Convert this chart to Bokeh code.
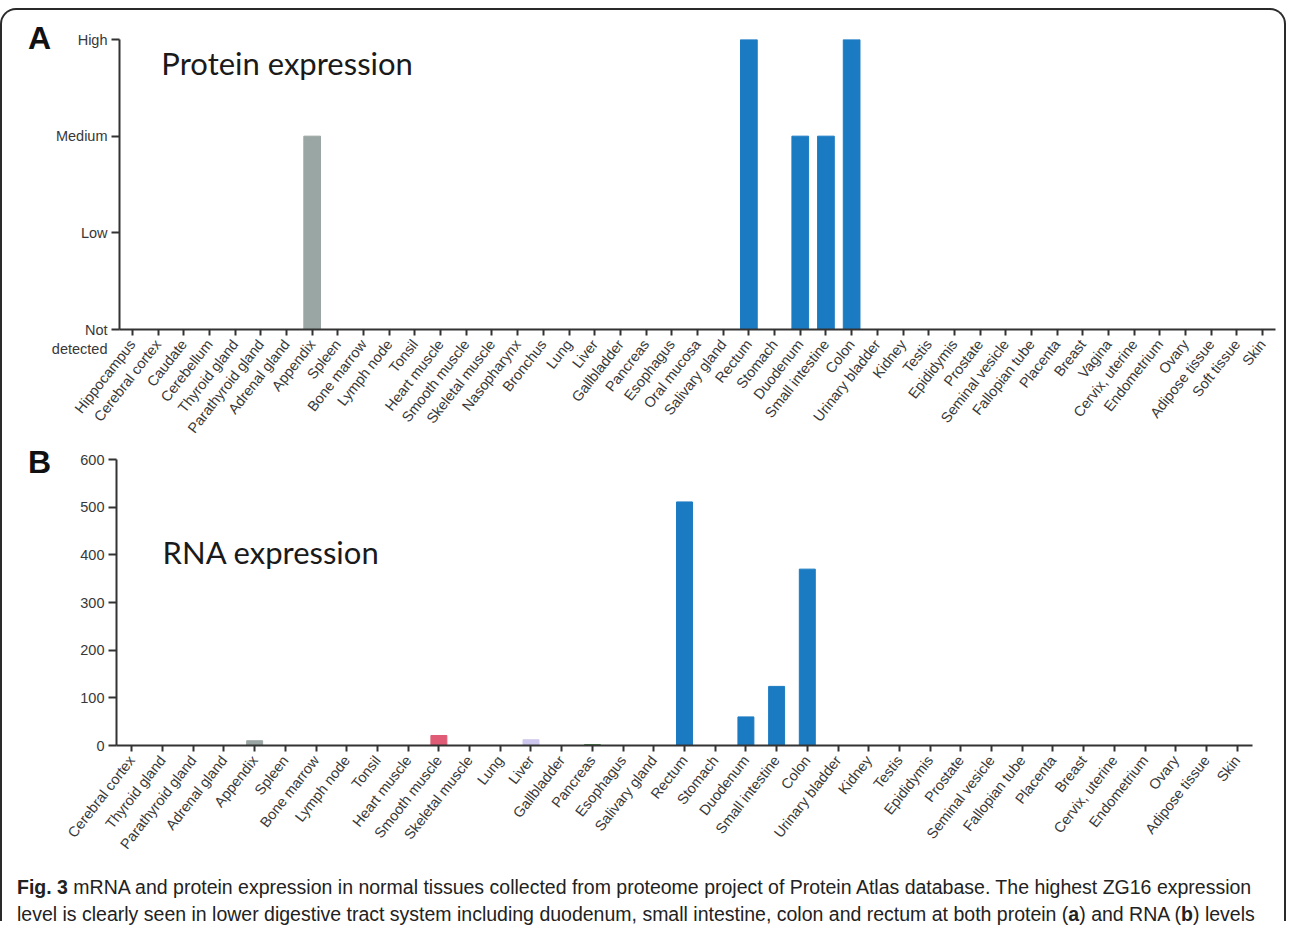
import math
from bokeh.plotting import figure
from bokeh.models import FactorRange, Range1d, FixedTicker, Div, ColumnDataSource
from bokeh.core.properties import value
from bokeh.layouts import column, row
from bokeh.embed import file_html
from bokeh.resources import INLINE

# ---------------- data ----------------
tissues_a = ["Hippocampus", "Cerebral cortex", "Caudate", "Cerebellum", "Thyroid gland",
             "Parathyroid gland", "Adrenal gland", "Appendix", "Spleen", "Bone marrow",
             "Lymph node", "Tonsil", "Heart muscle", "Smooth muscle", "Skeletal muscle",
             "Nasopharynx", "Bronchus", "Lung", "Liver", "Gallbladder", "Pancreas",
             "Esophagus", "Oral mucosa", "Salivary gland", "Rectum", "Stomach", "Duodenum",
             "Small intestine", "Colon", "Urinary bladder", "Kidney", "Testis", "Epididymis",
             "Prostate", "Seminal vesicle", "Fallopian tube", "Placenta", "Breast", "Vagina",
             "Cervix, uterine", "Endometrium", "Ovary", "Adipose tissue", "Soft tissue", "Skin"]
level_names = ["Not detected", "Low", "Medium", "High"]
level_labels = ["\nNot\ndetected", "Low", "Medium", "High"]
protein_level = {"Appendix": "Medium", "Rectum": "High", "Duodenum": "Medium",
                 "Small intestine": "Medium", "Colon": "High"}

tissues_b = ["Cerebral cortex", "Thyroid gland", "Parathyroid gland", "Adrenal gland", "Appendix",
             "Spleen", "Bone marrow", "Lymph node", "Tonsil", "Heart muscle", "Smooth muscle",
             "Skeletal muscle", "Lung", "Liver", "Gallbladder", "Pancreas", "Esophagus",
             "Salivary gland", "Rectum", "Stomach", "Duodenum", "Small intestine", "Colon",
             "Urinary bladder", "Kidney", "Testis", "Epididymis", "Prostate", "Seminal vesicle",
             "Fallopian tube", "Placenta", "Breast", "Cervix, uterine", "Endometrium", "Ovary",
             "Adipose tissue", "Skin"]
rna_values = [0, 0, 0, 0, 10, 0, 0, 0, 0, 0, 21, 0, 0, 12, 0, 2, 0, 0, 511, 0, 60, 124, 370,
              0, 0, 0, 0, 0, 0, 0, 0, 0, 0, 0, 0, 0, 0]
rna_ticks = [0, 100, 200, 300, 400, 500, 600]

title_a = "Protein expression"
title_b = "RNA expression"

# ---------------- styles ----------------
BLUE = "#1b7bc2"
special_colors = {"Appendix": "#9aa6a3", "Smooth muscle": "#e05c76",
                  "Liver": "#cfc8ee", "Pancreas": "#4f8f4f"}
AXIS_COL = "#333333"
TICK_FONT = "Liberation Sans"
ANGLE = math.radians(52)


def style_axes(p):
    for ax in (p.xaxis[0], p.yaxis[0]):
        ax.axis_line_width = 2
        ax.axis_line_color = AXIS_COL
        ax.major_tick_line_width = 2
        ax.major_tick_line_color = AXIS_COL
        ax.major_tick_in = 0
        ax.minor_tick_line_color = None
        ax.major_label_text_color = "#383838"
        ax.major_label_text_font = TICK_FONT
    p.xaxis.major_tick_out = 6
    p.yaxis.major_tick_out = 8
    p.xaxis.major_label_orientation = ANGLE
    p.xaxis.major_label_text_font_size = "14.5px"
    p.xaxis.major_label_standoff = 6
    p.yaxis.major_label_text_font_size = "14.5px"
    p.yaxis.major_label_standoff = 4
    p.xgrid.grid_line_color = None
    p.ygrid.grid_line_color = None
    p.outline_line_color = None
    p.border_fill_color = None


def letter_div(letter, pad_top):
    return Div(text=(f'<div style="padding:{pad_top}px 0 0 21px;font-family:\'Liberation Sans\';'
                     f'font-weight:bold;font-size:32px;line-height:32px;color:#111">{letter}</div>'),
               width=36, height=60)


# ---------------- panel A ----------------
a_top = [level_names.index(protein_level.get(t, "Not detected")) for t in tissues_a]
a_col = [special_colors["Appendix"] if t == "Appendix" else BLUE for t in tissues_a]
src_a = ColumnDataSource(dict(x=tissues_a, top=a_top, color=a_col))

pA = figure(x_range=FactorRange(*tissues_a), y_range=Range1d(0, 3),
            frame_width=1156, frame_height=290, output_backend="svg", toolbar_location=None,
            min_border_left=68, min_border_right=9, min_border_top=29, min_border_bottom=130)
pA.vbar(x="x", top="top", width=0.65, bottom=0, color="color", source=src_a)
style_axes(pA)
pA.yaxis.ticker = FixedTicker(ticks=list(range(len(level_names))))
pA.yaxis.major_label_overrides = {i: lab for i, lab in enumerate(level_labels)}
pA.text(x=[1.63], y=[2.757], text=[title_a], text_font=value("Lato"),
        text_font_size="31px", text_color="#1a1a1a", text_baseline="middle")

# ---------------- panel B ----------------
b_col = [special_colors.get(t, BLUE) for t in tissues_b]
src_b = ColumnDataSource(dict(x=tissues_b, top=rna_values, color=b_col))

pB = figure(x_range=FactorRange(*tissues_b), y_range=Range1d(0, 600),
            frame_width=1136, frame_height=286, output_backend="svg", toolbar_location=None,
            min_border_left=68, min_border_right=29, min_border_top=22, min_border_bottom=138)
pB.vbar(x="x", top="top", width=0.52, bottom=0, color="color", source=src_b)
style_axes(pB)
pB.yaxis.ticker = FixedTicker(ticks=rna_ticks)
pB.text(x=[1.5], y=[406], text=[title_b], text_font=value("Lato"),
        text_font_size="31px", text_color="#1a1a1a", text_baseline="middle")

caption = Div(
    text=('<div style="padding:11px 0 0 15px;font-family:\'Liberation Sans\',sans-serif;'
          'font-size:19.5px;line-height:27px;color:#222;white-space:nowrap">'
          "<b>Fig. 3</b> mRNA and protein expression in normal tissues collected from proteome "
          "project of Protein Atlas database. The highest ZG16 expression<br>level is clearly "
          "seen in lower digestive tract system including duodenum, small intestine, colon and "
          "rectum at both protein (<b>a</b>) and RNA (<b>b</b>) levels</div>"),
    width=1272, height=58, margin=(-20, 0, 0, 0))

layout = column(row(letter_div("A", 7), pA),
                row(letter_div("B", 4), pB, margin=(-22, 0, 0, 0)),
                caption,
                margin=(8, 0, 0, 0),
                styles={"border": "2px solid #2a2a2a", "border-bottom": "none",
                        "border-radius": "16px 16px 0 0"})

open("out.html", "w").write(file_html(layout, INLINE))
